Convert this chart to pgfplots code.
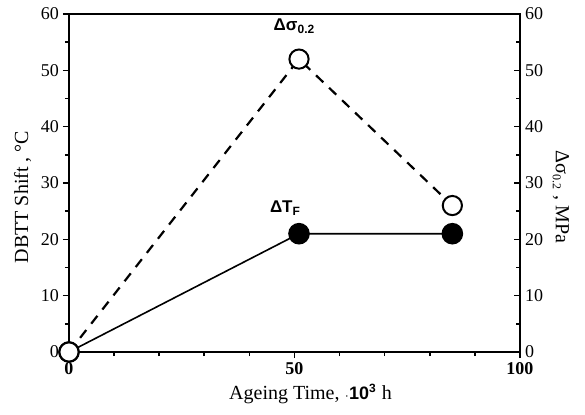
\documentclass[border=0pt]{standalone}
\usepackage{pgfplots}
\pgfplotsset{compat=1.18}
\usepackage{fontspec}
\setmainfont{Liberation Serif}
\newfontfamily\sans{Liberation Sans}

\begin{document}
\begin{tikzpicture}
\useasboundingbox (-34.5pt,-31pt) rectangle (258pt,176pt);
% left axis: DBTT shift
\begin{axis}[
  at={(0,0)}, anchor=south west,
  scale only axis, width=225.5pt, height=169pt,
  xmin=0, xmax=100, ymin=0, ymax=60,
  clip=false,
  axis line style={line width=0.9pt},
  xtick={0,50,100}, minor xtick={10,20,30,40,60,70,80,90},
  ytick={0,10,...,60}, minor ytick={5,15,...,55},
  xtick pos=bottom, ytick pos=left,
  tick align=outside,
  major tick length=3pt, minor tick length=2pt,
  tick style={line width=0.8pt, black},
  /pgf/number format/assume math mode=true,
  xticklabel style={font=\fontsize{9}{10}\selectfont\bfseries, yshift=1.5pt},
  yticklabel style={font=\fontsize{9}{10}\selectfont, xshift=1.5pt},
  xlabel={Ageing Time, {\sans\bfseries\fontsize{6}{7}\selectfont$\cdot$}{\sans\bfseries\fontsize{9}{10}\selectfont 10\textsuperscript{3}} h},
  ylabel={DBTT Shift\ , °C},
  label style={font=\fontsize{10}{12}\selectfont},
  xlabel style={yshift=2pt, xshift=8pt},
  ylabel style={yshift=-2pt, xshift=-7pt},
]
% Delta T_F (solid, filled circles)
\addplot[black, line width=0.8pt, mark=*, mark size=5pt,
  mark options={solid, fill=black}]
  coordinates {(0,0) (51,21) (85,21)};
% Delta sigma_0.2 (dashed, open circles)
\addplot[black, line width=1.1pt, dash pattern=on 5pt off 4pt,
  mark=*, mark size=4.8pt, mark options={solid, draw=black, fill=white, line width=1pt}]
  coordinates {(0,0) (51,52) (85,26)};
\node[font=\sans\bfseries\fontsize{8.5}{10}\selectfont] at (axis cs:50,57.8) {Δσ\textsubscript{\fontsize{6}{7}\selectfont 0.2}};
\node[font=\sans\bfseries\fontsize{8.5}{10}\selectfont] at (axis cs:48,25.6) {ΔT\textsubscript{\fontsize{6}{7}\selectfont F}};
\end{axis}
% right axis: yield stress change
\begin{axis}[
  at={(0,0)}, anchor=south west,
  scale only axis, width=225.5pt, height=169pt,
  xmin=0, xmax=100, ymin=0, ymax=60,
  axis x line=none,
  axis y line*=right,
  axis line style={line width=0.9pt, -},
  ytick={0,10,...,60}, minor ytick={5,15,...,55},
  tick align=inside,
  major tick length=3pt, minor tick length=2pt,
  tick style={line width=0.8pt, black},
  /pgf/number format/assume math mode=true,
  yticklabel style={font=\fontsize{9}{10}\selectfont, xshift=-1pt},
  ylabel={Δσ\textsubscript{\fontsize{6}{7}\selectfont 0.2} , MPa},
  ylabel style={font=\fontsize{10}{12}\selectfont, rotate=180, yshift=-2pt, xshift=7pt},
]
\end{axis}
\end{tikzpicture}
\end{document}
